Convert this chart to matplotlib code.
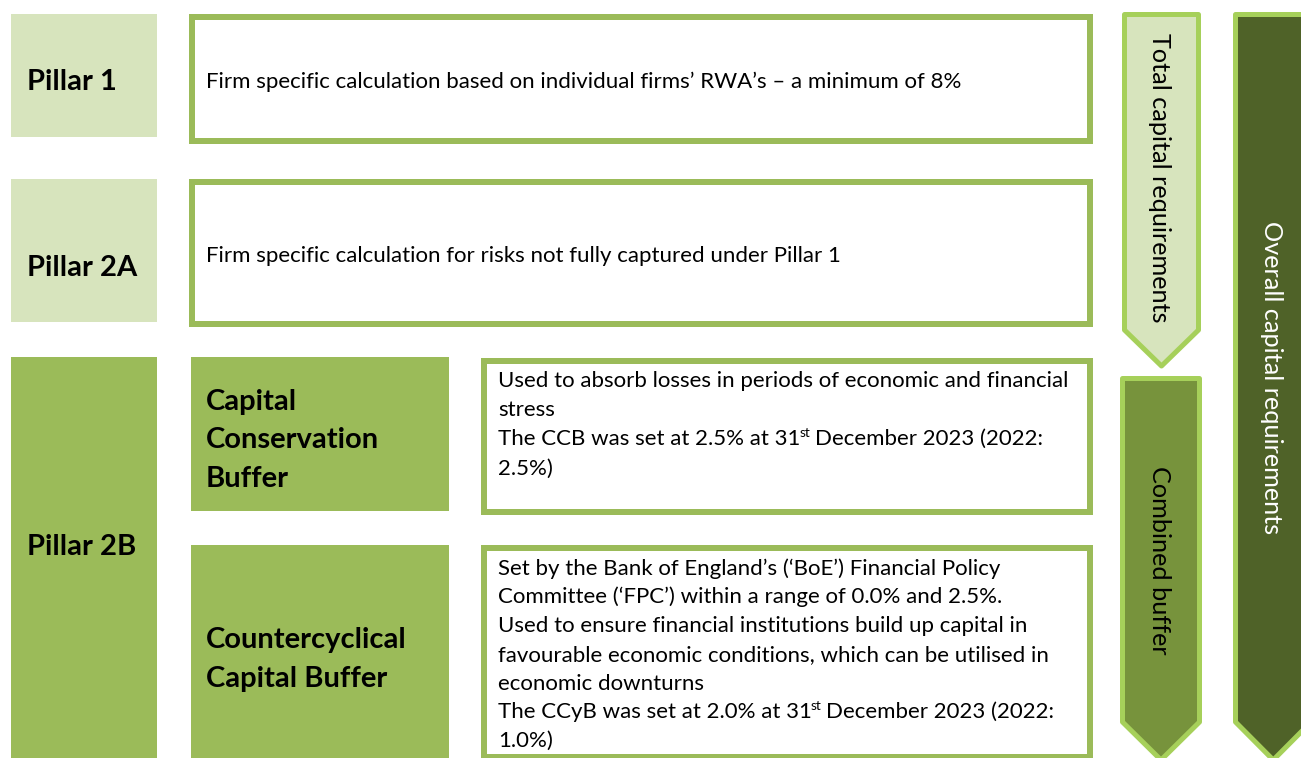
import matplotlib
matplotlib.use("Agg")
import matplotlib.pyplot as plt
from matplotlib.patches import Rectangle, Polygon

plt.rcParams['font.family'] = ['Lato', 'DejaVu Sans']

# ---- content ----
pillar_labels = ["Pillar 1", "Pillar 2A", "Pillar 2B"]
pillar1_text = "Firm specific calculation based on individual firms’ RWA’s – a minimum of 8%"
pillar2a_text = "Firm specific calculation for risks not fully captured under Pillar 1"
ccb_label = ["Capital", "Conservation", "Buffer"]
ccyb_label = ["Countercyclical", "Capital Buffer"]
ccb_lines = [
    "Used to absorb losses in periods of economic and financial",
    "stress",
    ["The CCB was set at 2.5% at 31", "st", "December 2023 (2022:"],
    "2.5%)",
]
ccyb_lines = [
    "Set by the Bank of England’s (‘BoE’) Financial Policy",
    "Committee (‘FPC’) within a range of 0.0% and 2.5%.",
    "Used to ensure financial institutions build up capital in",
    "favourable economic conditions, which can be utilised in",
    "economic downturns",
    ["The CCyB was set at 2.0% at 31", "st", "December 2023 (2022:"],
    "1.0%)",
]
arrow_labels = ["Total capital requirements", "Combined buffer", "Overall capital requirements"]

# ---- colours ----
LIGHT = "#d7e4bd"
MID = "#9bbb59"
ARROW_EDGE = "#a6d05a"
COMBINED = "#77933c"
OVERALL = "#4f6228"

W, H = 1301, 758
fig = plt.figure(figsize=(W / 100, H / 100), dpi=100)
ax = fig.add_axes([0, 0, 1, 1])
ax.set_xlim(0, W)
ax.set_ylim(H, 0)
ax.axis("off")

PX = 72 / 100  # points per pixel


def filled(x0, y0, x1, y1, color):
    ax.add_patch(Rectangle((x0, y0), x1 - x0, y1 - y0, facecolor=color,
                           edgecolor="none", zorder=1))


def outlined(x0, y0, x1, y1, lw_px=6):
    h = lw_px / 2
    ax.add_patch(Rectangle((x0 + h, y0 + h), x1 - x0 - lw_px, y1 - y0 - lw_px,
                           facecolor="white", edgecolor=MID, linewidth=lw_px * PX,
                           joinstyle="miter", zorder=1))


# left label boxes
filled(11, 14, 157, 137, LIGHT)
filled(11, 179, 157, 322, LIGHT)
filled(11, 357, 157, 770, MID)
filled(191, 357, 449, 511, MID)
filled(191, 545, 449, 770, MID)

# outlined description boxes
outlined(189, 14, 1093, 144)
outlined(189, 179, 1093, 327)
outlined(481, 358, 1093, 515)
outlined(481, 545, 1093, 760)

# arrows
def arrow(left, right, top, shoulder, tip, face):
    cx = (left + right) / 2
    pts = [(left, top), (right, top), (right, shoulder), (cx, tip), (left, shoulder)]
    ax.add_patch(Polygon(pts, closed=True, facecolor=face, edgecolor=ARROW_EDGE,
                         linewidth=5 * PX, joinstyle="round", zorder=2))

arrow(1124.5, 1198.5, 14.5, 330, 366, LIGHT)
arrow(1122.5, 1199.5, 378.5, 722, 760, COMBINED)
arrow(1235.5, 1311, 14.5, 722, 760, OVERALL)

# ---- text ----
BODY = 16.0
LABEL_BIG = 21
LABEL_PILLAR = 21
VERT = 18.2

for lab, yb in zip(pillar_labels, [90, 276, 555]):
    ax.text(27, yb, lab, fontsize=LABEL_PILLAR, fontweight="bold", va="baseline",
            ha="left", color="black", zorder=3)

ax.text(206, 88, pillar1_text, fontsize=BODY, va="baseline", ha="left", zorder=3)
ax.text(206, 262, pillar2a_text, fontsize=BODY, va="baseline", ha="left", zorder=3)

for lab, yb in zip(ccb_label, [410, 448, 487]):
    ax.text(206, yb, lab, fontsize=LABEL_BIG, fontweight="bold", va="baseline",
            ha="left", zorder=3)
for lab, yb in zip(ccyb_label, [648, 687]):
    ax.text(206, yb, lab, fontsize=LABEL_BIG, fontweight="bold", va="baseline",
            ha="left", zorder=3)

renderer = fig.canvas.get_renderer()


def text_width(s, size):
    t = ax.text(0, 0, s, fontsize=size)
    w = t.get_window_extent(renderer).width
    t.remove()
    return w


space_w = text_width("a a", BODY) - text_width("aa", BODY)
SUP = BODY * 0.62


def draw_line(x, yb, line):
    if isinstance(line, str):
        ax.text(x, yb, line, fontsize=BODY, va="baseline", ha="left", zorder=3)
        return
    a, sup, b = line
    ax.text(x, yb, a, fontsize=BODY, va="baseline", ha="left", zorder=3)
    x2 = x + text_width(a, BODY) - 1
    ax.text(x2, yb - 8, sup, fontsize=SUP, va="baseline", ha="left", zorder=3)
    x3 = x2 + text_width(sup, SUP) + space_w - 1
    ax.text(x3, yb, b, fontsize=BODY, va="baseline", ha="left", zorder=3)


for line, yb in zip(ccb_lines, [387, 416, 445, 475]):
    draw_line(498, yb, line)
for line, yb in zip(ccyb_lines, [575, 603, 632, 661, 690, 718, 747]):
    draw_line(498, yb, line)

# vertical arrow labels
ax.text(1160, 178, arrow_labels[0], rotation=270, fontsize=VERT,
        ha="center", va="center", color="black", zorder=3)
ax.text(1160, 560, arrow_labels[1], rotation=270, fontsize=VERT,
        ha="center", va="center", color="black", zorder=3)
ax.text(1271, 378, arrow_labels[2], rotation=270, fontsize=VERT,
        ha="center", va="center", color="white", zorder=3)

fig.savefig("out.png", dpi=100)
